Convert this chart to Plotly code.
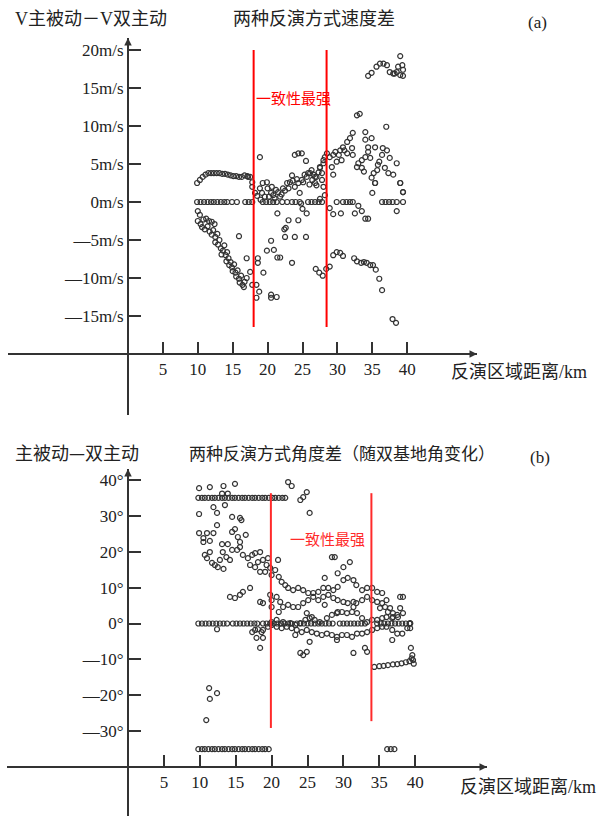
import plotly.graph_objects as go

# ---------------- Panel (a): speed difference ----------------
a_zero_x = [9.9, 10.4, 10.9, 11.4, 11.9, 12.3, 12.8, 13.3, 13.8, 14.2, 14.9, 15.6, 16.8, 17.3, 17.8,
            19.3, 19.8, 20.3, 20.8, 21.3, 22.1, 22.8, 23.5, 24.0, 24.6, 25.8, 26.3, 26.8, 27.3, 27.8,
            29.9, 30.8, 31.3, 31.8, 32.2, 36.4, 36.9, 37.4, 37.9, 38.5, 39.4]
a_zero_y = [0, 0, 0, 0, 0, 0, 0, 0, 0, 0, 0, 0, 0, 0, 0,
            0, 0, 0, 0, 0, 0, 0, 0, 0, 0, 0, 0, 0, 0, 0,
            0, 0, 0, 0, 0, 0, 0, 0, 0, 0, 0]

a_arc_x = [9.9, 10.3, 10.7, 11.1, 11.5, 11.9, 12.3, 12.7, 13.1, 13.5, 13.9, 14.3, 14.7, 15.1, 15.5,
           15.9, 16.3, 16.7, 17.1, 17.5, 17.8]
a_arc_y = [2.5, 2.9, 3.3, 3.6, 3.8, 3.8, 3.8, 3.8, 3.8, 3.7, 3.7, 3.6, 3.5, 3.4, 3.4,
           3.3, 3.3, 3.5, 3.4, 3.3, 2.6]

a_band_x = [10.0, 10.3, 10.0, 10.4, 10.8, 11.2, 11.6, 12.0, 12.4, 10.6, 11.0, 11.4, 11.7, 12.0, 12.2,
            12.5, 12.8, 12.5, 12.9, 13.1, 13.3, 13.6, 13.4, 13.8, 14.0, 14.2, 14.4, 14.1, 14.7, 14.5,
            14.9, 15.2, 15.0, 15.4, 15.7, 15.5, 15.9, 16.2, 16.0, 16.4, 16.7, 16.6, 17.0, 17.5, 17.8]
a_band_y = [-1.2, -1.7, -2.5, -2.9, -2.3, -2.2, -2.5, -2.6, -2.9, -3.3, -3.6, -3.2, -3.9, -4.3, -3.7,
            -4.6, -4.2, -5.3, -5.6, -5.0, -6.1, -6.4, -6.9, -5.7, -7.0, -6.6, -7.4, -7.8, -7.9, -8.3,
            -8.6, -8.2, -9.1, -9.3, -9.0, -9.8, -10.1, -9.7, -10.6, -10.9, -10.5, -11.2, -10.0, -9.2, -10.9]

a_mid_x = [18.9, 17.2, 17.8, 18.2, 18.9, 19.2, 19.9, 20.6, 19.6, 20.2, 20.8, 21.5, 21.8, 22.2, 22.8,
           23.2, 23.5, 23.9, 24.4, 23.9, 24.4, 24.9, 25.5, 24.9, 25.6, 26.1, 26.4, 26.8, 27.0, 27.5,
           27.8, 28.0, 28.5, 28.0, 28.2, 27.5, 25.1, 25.8, 26.3, 26.8, 27.0, 27.5, 28.0, 27.8, 28.2,
           19.3, 20.0, 20.5, 21.0, 21.2, 22.0, 22.5, 23.0, 23.6, 24.2, 25.3, 26.0, 26.6, 27.3, 19.0, 18.5,
           28.9, 29.4, 29.2, 29.4, 29.9, 30.4, 30.8, 31.4, 31.8, 32.2, 30.6, 31.4, 32.1, 32.2, 32.8,
           33.0, 33.5, 34.0, 34.0, 34.4, 34.4, 34.9, 35.4, 34.0, 34.7, 34.9, 35.4, 35.7, 35.8, 36.4,
           36.5, 37.1, 36.8, 37.3, 37.5, 38.0, 38.5, 37.0, 39.0, 39.4, 33.2, 32.8, 29.7, 30.2, 31.0,
           33.5, 35.2, 36.0, 33.8]
a_mid_y = [5.9, 3.3, 2.0, 1.2, 1.8, 1.2, 2.6, 2.0, 0.7, 0.7, 0.9, 1.3, 0.7, 1.8, 2.5,
           2.6, 3.5, 2.0, 2.5, 6.2, 6.4, 6.4, 5.4, 2.9, 3.3, 3.8, 2.9, 2.5, 3.3, 4.5,
           3.8, 5.5, 6.4, 2.0, 0.9, 0.4, 2.6, 3.8, 4.2, 3.3, 2.2, 4.6, 5.1, 2.9, 5.9,
           2.5, 1.8, 1.2, 0.5, 1.6, 1.0, 1.5, 1.8, 2.8, 3.0, 3.6, 2.3, 3.6, 3.9, 0.3, 0.8,
           5.9, 6.2, 4.6, 3.6, 5.3, 6.8, 7.2, 7.9, 8.4, 9.1, 5.5, 6.4, 7.1, 6.2, 4.6,
           5.1, 4.5, 9.2, 8.2, 7.2, 6.6, 8.4, 7.2, 5.9, 5.8, 3.2, 2.5, 4.2, 4.9, 6.2,
           7.1, 6.8, 4.5, 3.8, 5.8, 3.6, 5.1, 9.9, 2.5, 1.3, 11.6, 11.4, 6.6, 6.2, 6.8,
           5.5, 3.8, 5.3, 4.0]

a_neg_x = [15.9, 17.0, 18.6, 18.6, 19.4, 18.4, 18.8, 18.4, 20.5, 20.5, 21.3, 19.9, 20.5, 20.9, 21.4,
           21.8, 23.5, 22.4, 22.6, 23.0, 22.5, 23.9, 21.4, 24.4, 24.6, 24.8, 25.0, 25.6, 25.5, 28.9,
           29.4, 30.5, 32.5, 33.0, 33.5, 34.0, 34.4, 35.0, 35.4, 38.5, 39.4, 39.0]
a_neg_y = [-4.5, -7.4, -7.4, -8.0, -9.3, -10.9, -11.8, -12.6, -12.2, -12.6, -12.5, -6.4, -5.1, -6.3, -7.3,
           -7.3, -8.0, -3.6, -3.4, -2.4, -4.6, -4.6, -1.5, -2.4, 1.2, -0.2, -0.9, -1.5, -4.6, -0.8,
           -1.6, -1.5, -1.5, -0.5, -1.2, -2.2, -2.2, 1.2, 2.5, -1.2, 1.3, 2.5]

a_low_x = [26.9, 27.4, 27.9, 28.4, 28.9, 29.4, 29.9, 30.4, 30.8, 32.4, 32.8, 33.4, 33.8, 34.2, 34.7,
           35.1, 35.5, 36.0, 36.4, 37.9, 38.4]
a_low_y = [-8.8, -9.3, -9.7, -8.8, -8.5, -7.0, -6.6, -6.7, -7.1, -7.4, -7.8, -8.0, -7.9, -8.0, -8.3,
           -8.3, -8.9, -10.1, -11.6, -15.4, -15.9]

a_top_x = [34.4, 34.9, 35.6, 36.1, 36.6, 37.1, 37.5, 38.0, 38.5, 38.7, 39.3, 39.4, 39.0, 39.0, 39.4, 38.2]
a_top_y = [16.6, 17.0, 17.8, 18.2, 18.2, 18.0, 17.1, 16.9, 17.1, 17.8, 18.0, 17.4, 19.2, 16.7, 16.6, 16.9]

a_red_x = [18.0, 28.45]
a_red_top = 20.0
a_red_bottom = -16.45

a_yticks = [-15, -10, -5, 0, 5, 10, 15, 20]
a_yticktext = ['—15m/s', '—10m/s', '—5m/s', '0m/s', '5m/s', '10m/s', '15m/s', '20m/s']
x_ticks = [5, 10, 15, 20, 25, 30, 35, 40]
x_ticktext = ['5', '10', '15', '20', '25', '30', '35', '40']

# ---------------- Panel (b): angle difference ----------------
b_row35_x = [9.8, 10.3, 10.7, 11.2, 11.7, 12.1, 12.6, 13.1, 13.5, 14.0, 14.5, 14.9, 15.4, 15.9, 16.3,
             16.8, 17.3, 17.7, 18.2, 18.7, 19.1, 19.6, 20.1, 20.5, 21.0, 21.5, 21.9]
b_row35_y = [35, 35, 35, 35, 35, 35, 35, 35, 35, 35, 35, 35, 35, 35, 35,
             35, 35, 35, 35, 35, 35, 35, 35, 35, 35, 35, 35]

b_rowm35_x = [9.8, 10.3, 10.7, 11.2, 11.7, 12.1, 12.6, 13.1, 13.5, 14.0, 14.5, 14.9, 15.4, 15.9, 16.3,
              16.8, 17.3, 17.7, 18.2, 18.7, 19.1, 19.6, 36.1, 36.6, 37.1]
b_rowm35_y = [-35, -35, -35, -35, -35, -35, -35, -35, -35, -35, -35, -35, -35, -35, -35,
              -35, -35, -35, -35, -35, -35, -35, -35, -35, -35]

b_row0_x = [9.8, 10.3, 10.8, 11.3, 11.8, 12.3, 12.8, 13.3, 13.8, 14.6, 15.1, 15.6, 16.1, 16.6, 17.1,
            17.6, 18.0, 18.8, 19.3, 19.8, 20.3, 20.8, 21.3, 21.8, 22.3, 22.8, 23.5, 24.0, 24.5, 25.0,
            25.5, 26.0, 26.5, 27.0, 27.5, 28.0, 28.5, 29.5, 30.0, 30.5, 31.0, 31.5, 32.0, 32.5, 33.0,
            34.7, 35.2, 35.7, 36.2, 36.7, 37.2, 37.7, 38.2, 38.7, 39.2]
b_row0_y = [0, 0, 0, 0, 0, 0, 0, 0, 0, 0, 0, 0, 0, 0, 0,
            0, 0, 0, 0, 0, 0, 0, 0, 0, 0, 0, 0, 0, 0, 0,
            0, 0, 0, 0, 0, 0, 0, 0, 0, 0, 0, 0, 0, 0, 0,
            0, 0, 0, 0, 0, 0, 0, 0, 0, 0]

b_up_x = [9.9, 11.4, 13.3, 14.9, 13.1, 13.9, 13.5, 11.9, 12.4, 9.9, 14.5, 15.6, 15.8, 12.4, 9.9,
          11.0, 11.9, 14.5, 14.9, 16.4, 10.5, 11.4, 10.5, 15.3, 15.6, 13.1, 13.9, 15.6, 15.2, 14.5,
          13.2, 11.4, 10.7, 11.0, 11.7, 12.1, 12.5, 13.3, 12.8, 13.7, 14.2, 16.0, 16.7, 17.3, 17.7,
          18.4, 17.0, 17.7, 18.1, 18.8, 19.3, 19.8, 18.4, 19.1, 20.9, 19.5, 14.2, 14.9, 15.6, 16.0,
          17.0, 18.4, 18.8, 19.8, 20.0, 12.4, 17.3, 17.7, 18.1, 17.9, 18.8, 18.4, 18.8, 19.5, 11.3,
          11.4, 12.4, 10.9]
b_up_y = [37.7, 38.0, 38.3, 38.9, 36.2, 36.2, 33.0, 32.4, 30.8, 30.5, 29.7, 29.4, 28.8, 27.4, 25.2,
          25.2, 25.2, 25.5, 26.3, 24.7, 23.8, 23.0, 22.7, 24.1, 22.7, 22.1, 22.1, 21.3, 20.5, 20.5,
          19.9, 19.9, 19.1, 18.2, 16.9, 16.3, 15.7, 15.2, 17.7, 18.5, 17.7, 19.1, 18.2, 19.1, 19.6,
          19.9, 16.3, 15.7, 17.1, 17.7, 16.3, 15.5, 14.4, 14.4, 17.7, 18.2, 7.4, 7.1, 8.0, 8.8,
          9.9, 6.0, 5.7, 8.0, 4.6, -1.6, -2.4, -1.8, -1.6, -4.0, -4.0, -6.8, -1.8, -0.9, -18.0,
          -21.0, -19.4, -26.9]

b_band_x = [22.3, 22.8, 24.0, 24.4, 24.9, 25.3, 28.4, 28.8,
            20.0, 20.5, 21.0, 21.4, 21.9, 22.3, 23.0, 23.7, 24.4, 25.1, 25.8, 26.5, 27.2, 27.9, 28.6,
            29.2, 30.0, 30.6, 31.4, 31.8, 32.6, 33.3, 34.0, 34.7, 35.4, 36.0, 36.5, 36.9, 37.9, 38.3,
            20.0, 20.7, 21.2, 21.0, 21.6, 22.3, 23.0, 23.7, 24.4, 25.1, 25.8, 26.5, 27.2, 27.9, 28.6,
            29.2, 30.0, 30.6, 31.4, 31.8, 32.6, 33.3, 34.0, 34.7, 35.4, 35.8, 36.2, 36.9, 37.6, 38.3,
            39.3, 27.4, 29.2, 30.0, 30.9, 29.2, 27.4, 24.9, 25.6, 31.4, 35.1, 37.9]
b_band_y = [39.4, 38.3, 34.4, 35.2, 36.6, 30.8, 18.5, 18.5,
            13.5, 14.9, 13.0, 11.6, 10.7, 9.9, 9.3, 9.9, 9.3, 8.5, 8.5, 8.8, 9.9, 9.9, 9.3,
            10.2, 12.1, 12.7, 12.1, 10.7, 9.3, 9.9, 9.9, 8.8, 8.5, 6.5, 4.3, 2.9, 7.4, 7.4,
            6.5, 7.4, 6.0, 3.2, 4.6, 5.2, 4.6, 4.6, 5.7, 6.5, 7.4, 6.5, 7.4, 8.0, 7.1,
            6.5, 6.0, 5.7, 6.0, 5.7, 6.5, 7.4, 6.5, 6.0, 5.7, 4.6, 3.2, 1.8, 1.8, 2.9,
            0.0, 12.7, 14.0, 15.7, 17.1, 3.2, 5.2, 2.9, 1.8, 4.6, 4.3, 4.3]

b_near0_x = [20.0, 20.7, 21.4, 22.1, 22.8, 23.5, 24.2, 24.9, 25.6, 26.3, 27.0, 27.7, 28.4, 29.1, 29.8,
             30.5, 31.2, 31.9, 32.6, 33.3, 34.0, 34.7, 35.4, 36.0, 36.8, 37.5, 38.2, 38.9, 39.3,
             20.0, 20.7, 21.6, 22.6, 23.3, 24.0, 24.7, 25.3, 26.0, 26.7, 27.7, 28.4, 29.1, 29.8, 30.5,
             31.2, 31.9, 32.6, 33.3, 34.0, 34.7, 35.4, 36.0, 36.8, 37.5,
             18.6, 24.0, 24.4, 24.9, 31.4, 33.0, 33.3, 36.8, 25.3, 23.3, 29.1]
b_near0_y = [-0.4, -0.9, -1.3, -0.9, -1.3, -1.8, -2.4, -1.8, -2.4, -2.8, -3.2, -2.8, -3.2, -3.7, -3.2,
             -3.2, -3.7, -2.8, -2.8, -2.4, -1.8, -1.3, -0.9, -0.9, -1.8, -2.8, -2.8, -1.3, -1.3,
             0.4, 1.0, 0.4, 0.1, -0.4, 0.1, 1.0, 1.5, 1.0, 0.4, 1.5, 2.4, 2.9, 3.2, 2.9,
             3.2, 2.9, 1.5, 0.4, 1.0, 1.0, 1.5, 1.8, 1.5, 2.4,
             -2.4, -8.2, -8.8, -7.9, -8.2, -6.8, -7.9, -4.6, -5.1, -3.2, -4.6]

b_right_x = [34.3, 35.0, 35.6, 36.2, 36.9, 37.5, 38.1, 38.7, 39.2, 39.5, 39.7, 39.8, 39.6, 39.4, 39.3]
b_right_y = [-12.1, -11.9, -11.8, -11.6, -11.4, -11.3, -11.1, -10.8, -10.5, -9.7, -10.2, -11.2, -8.8, -6.8, 0.1]

b_red_x = [19.9, 33.9]
b_red_top = 36.3
b_red_bottom = [-29.1, -27.2]

b_yticks = [-30, -20, -10, 0, 10, 20, 30, 40]
b_yticktext = ['—30°', '—20°', '—10°', '0°', '10°', '20°', '30°', '40°']

# ---------------- figure ----------------
W, H = 599, 816
SERIF = "Liberation Serif"
CJK = "Noto Sans CJK SC"
AX = '#333333'

def px_x(p):
    return p / W

def px_y(p):
    return 1 - p / H

def serif(s):
    return '<span style="font-family:Liberation Serif">' + s + '</span>'

marker = dict(symbol='circle-open', size=5, color='#333333', line=dict(width=1.2))

fig = go.Figure()

a_x = a_zero_x + a_arc_x + a_band_x + a_mid_x + a_neg_x + a_low_x + a_top_x
a_y = a_zero_y + a_arc_y + a_band_y + a_mid_y + a_neg_y + a_low_y + a_top_y
fig.add_trace(go.Scatter(x=a_x, y=a_y, mode='markers', marker=marker, xaxis='x', yaxis='y',
                         showlegend=False, cliponaxis=False))
for xv in a_red_x:
    fig.add_trace(go.Scatter(x=[xv, xv], y=[a_red_top, a_red_bottom], mode='lines',
                             line=dict(color='#ff0000', width=2), xaxis='x', yaxis='y', showlegend=False))

b_x = b_row35_x + b_rowm35_x + b_row0_x + b_up_x + b_band_x + b_near0_x + b_right_x
b_y = b_row35_y + b_rowm35_y + b_row0_y + b_up_y + b_band_y + b_near0_y + b_right_y
fig.add_trace(go.Scatter(x=b_x, y=b_y, mode='markers', marker=marker, xaxis='x2', yaxis='y2',
                         showlegend=False, cliponaxis=False))
for xv, yb in zip(b_red_x, b_red_bottom):
    fig.add_trace(go.Scatter(x=[xv, xv], y=[b_red_top, yb], mode='lines',
                             line=dict(color='#ff2a2a', width=2), xaxis='x2', yaxis='y2', showlegend=False))

# axis geometry (pixels)
a_x0, a_xs = 128, 6.98
a_y0, a_ys = 202, 7.6
b_x0, b_xs = 128, 7.18
b_y0, b_ys = 623.5, 3.59

a_xrange = [(8 - a_x0) / a_xs, (477 - a_x0) / a_xs]
a_yrange = [(a_y0 - 415) / a_ys, (a_y0 - 38) / a_ys]
b_xrange = [(7 - b_x0) / b_xs, (487 - b_x0) / b_xs]
b_yrange = [(b_y0 - 816) / b_ys, (b_y0 - 469) / b_ys]

tickfont = dict(family="Liberation Serif, serif", size=17, color='#222')
common_x = dict(showgrid=False, zeroline=False, showline=True, linecolor=AX, linewidth=2,
                ticks='inside', ticklen=11, tickwidth=2, tickcolor=AX, tickvals=x_ticks,
                ticktext=[serif(t) for t in x_ticktext],
                tickfont=tickfont, anchor='free')
common_y = dict(showgrid=False, zeroline=False, showline=True, linecolor=AX, linewidth=2,
                ticks='inside', ticklen=12, tickwidth=2, tickcolor=AX, tickfont=tickfont,
                anchor='free', position=px_x(128))

fig.update_layout(
    width=W, height=H, margin=dict(l=0, r=0, t=0, b=0),
    paper_bgcolor='white', plot_bgcolor='rgba(0,0,0,0)',
    font=dict(family=SERIF, color='#222'),
    xaxis=dict(common_x, domain=[px_x(8), px_x(477)], range=a_xrange, position=px_y(354)),
    yaxis=dict(common_y, domain=[px_y(415), px_y(38)], range=a_yrange,
               tickvals=a_yticks, ticktext=[serif(t) for t in a_yticktext]),
    xaxis2=dict(common_x, domain=[px_x(7), px_x(487)], range=b_xrange, position=px_y(767)),
    yaxis2=dict(common_y, domain=[0, px_y(469)], range=b_yrange,
                tickvals=b_yticks, ticktext=[serif(t) for t in b_yticktext]),
)

ann = []
ann.append(dict(x=a_xrange[1], y=-20, xref='x', yref='y', ax=-10, ay=0, showarrow=True,
                arrowhead=2, arrowsize=1, arrowwidth=1.5, arrowcolor=AX, text=''))
ann.append(dict(x=0, y=a_yrange[1], xref='x', yref='y', ax=0, ay=10, showarrow=True,
                arrowhead=2, arrowsize=1, arrowwidth=1.5, arrowcolor=AX, text=''))
ann.append(dict(x=b_xrange[1], y=-40, xref='x2', yref='y2', ax=-10, ay=0, showarrow=True,
                arrowhead=2, arrowsize=1, arrowwidth=1.5, arrowcolor=AX, text=''))
ann.append(dict(x=0, y=b_yrange[1], xref='x2', yref='y2', ax=0, ay=10, showarrow=True,
                arrowhead=2, arrowsize=1, arrowwidth=1.5, arrowcolor=AX, text=''))

def txt(x, y, s, size=18, color='#222', anchor='left', fam=CJK):
    ann.append(dict(x=px_x(x), y=px_y(y), xref='paper', yref='paper', text=s, showarrow=False,
                    xanchor=anchor, yanchor='middle', font=dict(family=fam, size=size, color=color)))

txt(13, 17, serif('V') + '主被动－' + serif('V') + '双主动', 18)
txt(231, 17, '两种反演方式速度差', 18)
txt(537, 22, '(a)', 17, anchor='center', fam=SERIF)
txt(589, 370, '反演区域距离' + serif('/km'), 18, anchor='right')
txt(13, 452, '主被动—双主动', 18)
txt(187, 452, '两种反演方式角度差（随双基地角变化）', 17)
txt(540, 457, '(b)', 17, anchor='center', fam=SERIF)
txt(598, 785, '反演区域距离' + serif('/km'), 18, anchor='right')

ann.append(dict(x=18.0, y=13.8, xref='x', yref='y', text='一致性最强', showarrow=False,
                xanchor='left', yanchor='middle', font=dict(family=CJK, size=15, color='#ff0000')))
ann.append(dict(x=22.3, y=23.8, xref='x2', yref='y2', text='一致性最强', showarrow=False,
                xanchor='left', yanchor='middle', font=dict(family=CJK, size=15, color='#ff2a2a')))

fig.update_layout(annotations=ann)

fig.add_shape(type='line', xref='paper', yref='paper', x0=px_x(128), x1=px_x(128),
              y0=px_y(354), y1=px_y(415), line=dict(color=AX, width=2))

fig.write_html("out.html")
